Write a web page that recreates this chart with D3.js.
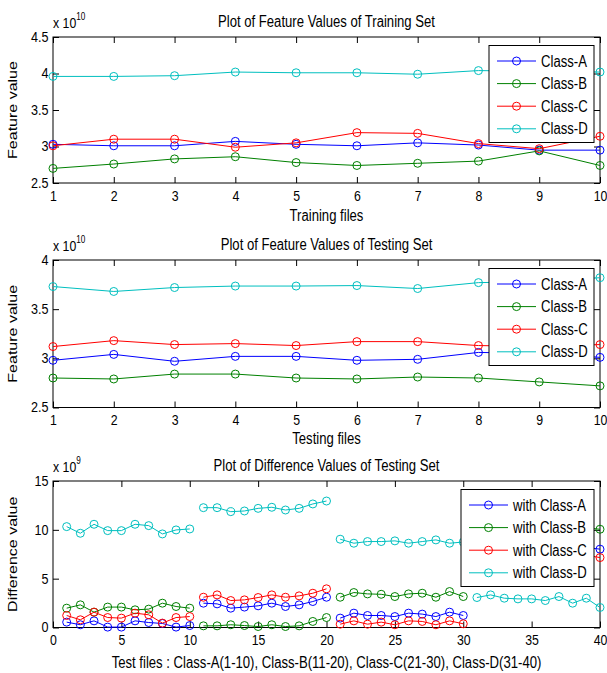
<!DOCTYPE html>
<html>
<head>
<meta charset="utf-8">
<script src="https://cdn.jsdelivr.net/npm/d3@7"></script>
<style>
  body { margin: 0; background: #fff; }
  text { font-family: "Liberation Sans", Arial, sans-serif; fill: #000; }
</style>
</head>
<body>
<div id="container"></div>
<script>
// feature values (x 1e10) of the training set, files 1..10
const files = [1, 2, 3, 4, 5, 6, 7, 8, 9, 10];
const trainA = [3.03, 3.01, 3.01, 3.07, 3.03, 3.01, 3.05, 3.02, 2.95, 2.95];
const trainB = [2.70, 2.76, 2.83, 2.86, 2.78, 2.74, 2.77, 2.80, 2.94, 2.74];
const trainC = [3.01, 3.10, 3.10, 2.99, 3.05, 3.19, 3.18, 3.04, 2.97, 3.14];
const trainD = [3.96, 3.96, 3.97, 4.02, 4.01, 4.01, 3.99, 4.04, 4.03, 4.02];

// feature values (x 1e10) of the testing set
const testA = [2.98, 3.04, 2.97, 3.02, 3.02, 2.98, 2.99, 3.06, 3.05, 3.01];
const testB = [2.80, 2.79, 2.84, 2.84, 2.80, 2.79, 2.81, 2.80, 2.76, 2.72];
const testC = [3.12, 3.18, 3.14, 3.15, 3.13, 3.17, 3.17, 3.13, 3.12, 3.14];
const testD = [3.73, 3.68, 3.72, 3.735, 3.735, 3.74, 3.71, 3.77, 3.78, 3.82];

// difference values (x 1e9), test files 1..40
const testFiles = d3.range(1, 41);
const diffA = [0.55, 0.28, 0.68, 0.04, 0.04, 0.68, 0.51, 0.41, 0.04, 0.20,
               2.49, 2.42, 1.98, 2.09, 2.22, 2.49, 2.15, 2.32, 2.66, 3.10,
               0.96, 1.47, 1.23, 1.23, 1.12, 1.47, 1.37, 1.12, 1.57, 1.23,
               8.2, 8.4, 8.1, 8.0, 8.1, 8.0, 8.3, 7.8, 8.2, 8.02];
const diffB = [1.98, 2.32, 1.57, 2.09, 2.09, 1.81, 1.88, 2.49, 2.15, 1.98,
               0.17, 0.17, 0.28, 0.20, 0.10, 0.28, 0.10, 0.17, 0.62, 1.02,
               3.10, 3.58, 3.44, 3.40, 3.17, 3.44, 3.51, 3.10, 3.68, 3.17,
               10.2, 10.4, 10.1, 10.0, 10.1, 10.0, 10.3, 9.8, 10.2, 10.06];
const diffC = [1.23, 0.79, 1.57, 1.02, 0.96, 1.47, 1.30, 0.45, 1.02, 1.12,
               3.10, 3.34, 2.76, 2.83, 3.07, 3.34, 3.10, 3.24, 3.51, 3.96,
               0.34, 0.68, 0.34, 0.55, 0.28, 0.68, 0.62, 0.28, 0.68, 0.38,
               7.4, 7.6, 7.3, 7.2, 7.3, 7.2, 7.5, 7.0, 7.4, 7.16];
const diffD = [10.33, 9.65, 10.57, 9.92, 9.92, 10.57, 10.43, 9.58, 9.99, 10.09,
               12.27, 12.27, 11.86, 11.93, 12.20, 12.31, 12.03, 12.20, 12.65, 12.95,
               9.04, 8.63, 8.80, 8.80, 8.87, 8.63, 8.80, 8.97, 8.63, 8.75,
               3.07, 3.34, 3.00, 2.93, 2.93, 2.76, 3.17, 2.49, 3.00, 2.05];

const classNames = ['Class-A', 'Class-B', 'Class-C', 'Class-D'];
const diffNames = ['with Class-A', 'with Class-B', 'with Class-C', 'with Class-D'];
const colors = ['#0000ff', '#008000', '#ff0000', '#00bfbf'];

const WIDTH = 607;
const HEIGHT = 673;
const SX = 0.82;   // the figure text is narrow

const svg = d3.select('#container')
  .append('svg')
  .attr('width', WIDTH)
  .attr('height', HEIGHT);

function label(g, x, y, str, size, anchor, rotate) {
  return g.append('text')
    .attr('transform', `translate(${x},${y}) scale(${SX},1)` + (rotate ? ' rotate(-90)' : ''))
    .attr('text-anchor', anchor)
    .style('font-size', size + 'px')
    .text(str);
}

function panel(p) {
  const x = d3.scaleLinear().domain(p.xDomain).range([53, 600]);
  const y = d3.scaleLinear().domain(p.yDomain).range([p.bottom, p.top]);
  const g = svg.append('g');

  // inward ticks on all four sides
  const tick = 6;
  const styleAxis = sel => {
    sel.select('.domain').remove();
    sel.selectAll('line').attr('stroke', '#000');
    sel.selectAll('text').style('font-size', '14px').attr('fill', '#000');
  };
  g.append('g').attr('transform', `translate(0,${p.bottom})`)
    .call(d3.axisBottom(x).tickValues(p.xTicks).tickSize(-tick).tickPadding(8).tickFormat(d3.format('d')))
    .call(styleAxis)
    .selectAll('text').attr('transform', 'scale(0.88,1)');
  g.append('g').attr('transform', `translate(0,${p.top})`)
    .call(d3.axisTop(x).tickValues(p.xTicks).tickSize(-tick).tickFormat(''))
    .call(styleAxis);
  g.append('g').attr('transform', 'translate(53,0)')
    .call(d3.axisLeft(y).tickValues(p.yTicks).tickSize(-tick).tickPadding(5).tickFormat(d3.format('')))
    .call(styleAxis)
    .selectAll('text').attr('transform', 'scale(0.9,1)');
  g.append('g').attr('transform', 'translate(600,0)')
    .call(d3.axisRight(y).tickValues(p.yTicks).tickSize(-tick).tickFormat(''))
    .call(styleAxis);

  g.append('rect')
    .attr('x', 53).attr('y', p.top)
    .attr('width', 547).attr('height', p.bottom - p.top)
    .attr('fill', 'none').attr('stroke', '#000');

  const line = d3.line().x(d => x(d[0])).y(d => y(d[1]));

  p.series.forEach((vals, i) => {
    const pts = p.xs.map((v, j) => [v, vals[j]]);
    p.segments.forEach(([a, b]) => {
      g.append('path')
        .datum(pts.slice(a, b))
        .attr('d', line)
        .attr('fill', 'none')
        .attr('stroke', colors[i])
        .attr('stroke-width', 1);
    });
    g.selectAll(null)
      .data(pts)
      .enter()
      .append('circle')
        .attr('cx', d => x(d[0]))
        .attr('cy', d => y(d[1]))
        .attr('r', 4)
        .attr('fill', 'none')
        .attr('stroke', colors[i]);
  });

  // titles and labels
  label(g, 326.5, p.top - 10, p.title, 16, 'middle');
  label(g, 326.5, p.xLabelY, p.xLabel, 16, 'middle');
  label(g, 17, (p.top + p.bottom) / 2, p.yLabel, 16, 'middle', true);
  const ex = label(g, 53, p.top - 9, 'x 10', 15, 'start');
  ex.append('tspan').attr('dy', -8).style('font-size', '10px').text(p.exp);

  // legend
  const lx = 600 - 6 - p.legendW;
  const ly = p.top + 8.5;
  const lg = g.append('g');
  lg.append('rect')
    .attr('x', lx).attr('y', ly)
    .attr('width', p.legendW).attr('height', 97)
    .attr('fill', '#fff').attr('stroke', '#000');
  p.names.forEach((n, i) => {
    const cy = ly + 15.5 + i * 22.6;
    lg.append('line')
      .attr('x1', lx + 8).attr('x2', lx + 47)
      .attr('y1', cy).attr('y2', cy)
      .attr('stroke', colors[i]);
    lg.append('circle')
      .attr('cx', lx + 27.5).attr('cy', cy).attr('r', 4)
      .attr('fill', 'none').attr('stroke', colors[i]);
    label(lg, lx + 52, cy + 5.5, n, 16, 'start');
  });
}

panel({
  top: 37, bottom: 183,
  xDomain: [1, 10], yDomain: [2.5, 4.5],
  xTicks: files, yTicks: [2.5, 3, 3.5, 4, 4.5],
  xs: files, series: [trainA, trainB, trainC, trainD], segments: [[0, 10]],
  title: 'Plot of Feature Values of Training Set',
  xLabel: 'Training files', xLabelY: 221, yLabel: 'Feature value', exp: '10',
  names: classNames, legendW: 105
});

panel({
  top: 260, bottom: 407.5,
  xDomain: [1, 10], yDomain: [2.5, 4],
  xTicks: files, yTicks: [2.5, 3, 3.5, 4],
  xs: files, series: [testA, testB, testC, testD], segments: [[0, 10]],
  title: 'Plot of Feature Values of Testing Set',
  xLabel: 'Testing files', xLabelY: 444, yLabel: 'Feature value', exp: '10',
  names: classNames, legendW: 105
});

panel({
  top: 481, bottom: 627.5,
  xDomain: [0, 40], yDomain: [0, 15],
  xTicks: [0, 5, 10, 15, 20, 25, 30, 35, 40], yTicks: [0, 5, 10, 15],
  xs: testFiles, series: [diffA, diffB, diffC, diffD],
  segments: [[0, 10], [10, 20], [20, 30], [30, 40]],
  title: 'Plot of Difference Values of Testing Set',
  xLabel: 'Test files : Class-A(1-10), Class-B(11-20), Class-C(21-30), Class-D(31-40)',
  xLabelY: 668, yLabel: 'Difference value', exp: '9',
  names: diffNames, legendW: 133
});
</script>
</body>
</html>
